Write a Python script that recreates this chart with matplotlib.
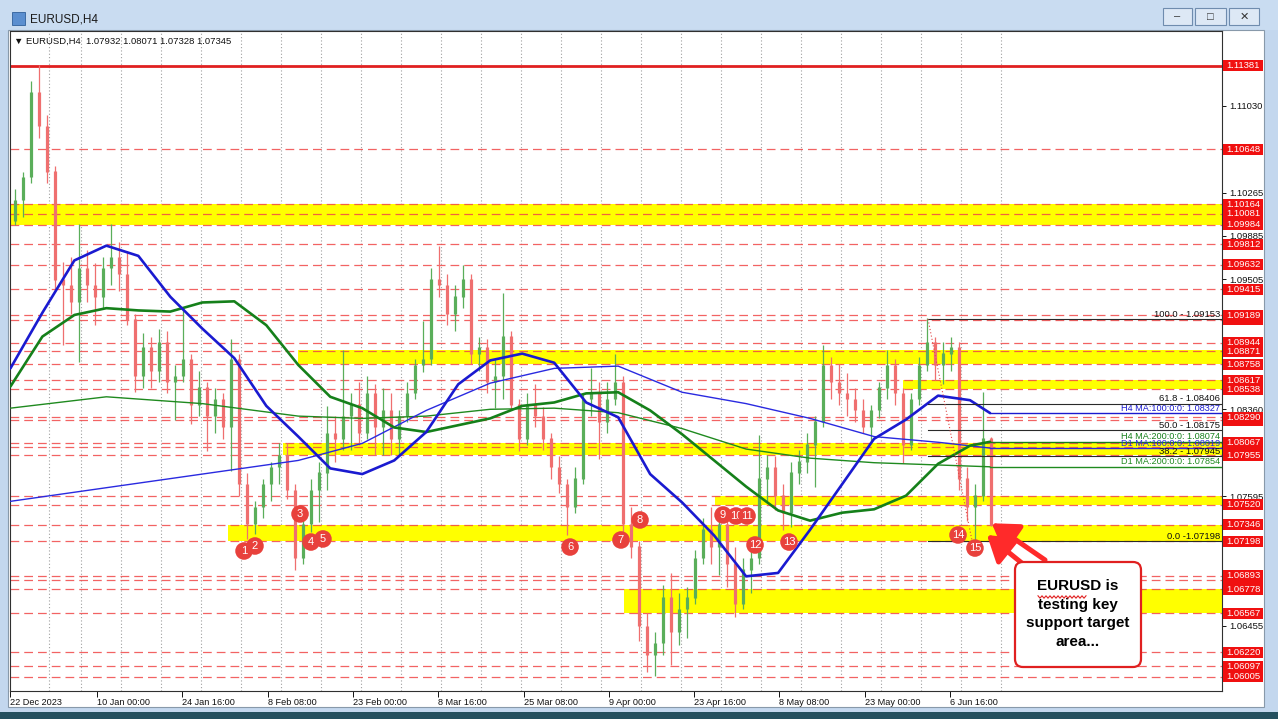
import numpy as np
import matplotlib.pyplot as plt
from matplotlib.patches import Rectangle, FancyBboxPatch
from matplotlib.lines import Line2D
import matplotlib.transforms as mtransforms

plt.rcParams['font.family'] = ['Liberation Sans', 'DejaVu Sans']

W, H = 1278, 719

# ---------------- data ----------------
# daily candles (one every 6 H4 bars)
closes = [1.1020, 1.1040, 1.1115, 1.1085, 1.1045, 1.0950, 1.0945, 1.0930, 1.0960, 1.0945,
          1.0935, 1.0960, 1.0970, 1.0955, 1.0915, 1.0865, 1.0890, 1.0870, 1.0895, 1.0860,
          1.0865, 1.0880, 1.0840, 1.0855, 1.0830, 1.0845, 1.0820, 1.0880, 1.0770, 1.0735,
          1.0750, 1.0770, 1.0785, 1.0795, 1.0765, 1.0705, 1.0735, 1.0765, 1.0780, 1.0815,
          1.0810, 1.0830, 1.0840, 1.0815, 1.0850, 1.0820, 1.0835, 1.0810, 1.0830, 1.0850,
          1.0875, 1.0880, 1.0950, 1.0945, 1.0920, 1.0935, 1.0950, 1.0885, 1.0890, 1.0860,
          1.0865, 1.0900, 1.0840, 1.0810, 1.0840, 1.0830, 1.0810, 1.0785, 1.0770, 1.0750,
          1.0775, 1.0845, 1.0850, 1.0825, 1.0845, 1.0860, 1.0735, 1.0715, 1.0645, 1.0620,
          1.0630, 1.0670, 1.0640, 1.0660, 1.0670, 1.0705, 1.0730, 1.0715, 1.0735, 1.0700,
          1.0665, 1.0695, 1.0705, 1.0775, 1.0785, 1.0760, 1.0745, 1.0780, 1.0790, 1.0805,
          1.0825, 1.0875, 1.0860, 1.0850, 1.0845, 1.0835, 1.0820, 1.0835, 1.0855, 1.0875,
          1.0850, 1.0805, 1.0845, 1.0875, 1.0895, 1.0875, 1.0885, 1.0890, 1.0775, 1.0750,
          1.0760, 1.0810, 1.07345]
highs = [1.1030, 1.1045, 1.1125, 1.1139, 1.1095, 1.1050, 1.0966, 1.0970, 1.0999, 1.0976,
         1.0965, 1.0970, 1.0999, 1.0983, 1.0975, 1.0920, 1.0903, 1.0900, 1.0907, 1.0905,
         1.0875, 1.0924, 1.0885, 1.0870, 1.0860, 1.0855, 1.0850, 1.0898, 1.0885, 1.0780,
         1.0755, 1.0775, 1.0790, 1.0806, 1.0806, 1.0770, 1.0740, 1.0775, 1.0790, 1.0839,
         1.0830, 1.0888, 1.0850, 1.0860, 1.0865, 1.0858, 1.0855, 1.0850, 1.0835, 1.0860,
         1.0880, 1.0914, 1.0960, 1.0980, 1.0955, 1.0945, 1.0963, 1.0955, 1.0900, 1.0898,
         1.0880, 1.0938, 1.0905, 1.0845, 1.0850, 1.0858, 1.0838, 1.0815, 1.0795, 1.0775,
         1.0785, 1.0850, 1.0872, 1.0860, 1.0860, 1.0885, 1.0865, 1.0750, 1.0720, 1.0657,
         1.0640, 1.0681, 1.0692, 1.0674, 1.0680, 1.0712, 1.0740, 1.0750, 1.0748, 1.0745,
         1.0715, 1.0705, 1.0712, 1.0813, 1.0796, 1.0795, 1.0770, 1.0790, 1.0800, 1.0815,
         1.0830, 1.0893, 1.0882, 1.0876, 1.0868, 1.0855, 1.0845, 1.0840, 1.0860, 1.0888,
         1.0880, 1.0855, 1.0850, 1.0882, 1.0916, 1.0900, 1.0895, 1.0900, 1.0895, 1.0785,
         1.0770, 1.0851, 1.0812]
lows = [1.0998, 1.1005, 1.1035, 1.1075, 1.1035, 1.0940, 1.0893, 1.0920, 1.0878, 1.0930,
        1.0910, 1.0925, 1.0945, 1.0940, 1.0910, 1.0851, 1.0855, 1.0855, 1.0860, 1.0850,
        1.0827, 1.0860, 1.0823, 1.0830, 1.0799, 1.0815, 1.0810, 1.0782, 1.0760, 1.0722,
        1.0726, 1.0740, 1.0755, 1.0770, 1.0757, 1.0695, 1.0700, 1.0728, 1.0737, 1.0765,
        1.0790, 1.0800, 1.0800, 1.0805, 1.0810, 1.0796, 1.0796, 1.0796, 1.0796, 1.0825,
        1.0845, 1.0869, 1.0875, 1.0935, 1.0910, 1.0905, 1.0925, 1.0876, 1.0870, 1.0850,
        1.0837, 1.0845, 1.0835, 1.0799, 1.0805, 1.0820, 1.0800, 1.0775, 1.0762, 1.0725,
        1.0745, 1.0770, 1.0830, 1.0792, 1.0815, 1.0840, 1.0718, 1.0705, 1.0632, 1.0605,
        1.0601, 1.0620, 1.0611, 1.0629, 1.0635, 1.0665, 1.0700, 1.0700, 1.0690, 1.0680,
        1.0653, 1.0660, 1.0674, 1.0700, 1.0755, 1.0747, 1.0730, 1.0732, 1.0770, 1.0780,
        1.0768, 1.0820, 1.0845, 1.0840, 1.0830, 1.0825, 1.0815, 1.0806, 1.0828, 1.0845,
        1.0840, 1.0789, 1.0800, 1.0840, 1.0870, 1.0862, 1.0858, 1.0870, 1.0765, 1.0738,
        1.0720, 1.0755, 1.0733]
first_open = 1.1002
opens = [first_open] + closes[:-1]

# moving averages (H4 bar index, price)
ma_bars = [0, 24, 48, 72, 96, 120, 144, 168, 192, 216, 240, 264, 288, 312, 336, 360,
           384, 408, 432, 456, 480, 504, 528, 552, 576, 600, 624, 648, 672, 696, 720, 735]
h4_ma100 = [1.0872, 1.0921, 1.0967, 1.0980, 1.0971, 1.0935, 1.0907, 1.0881, 1.0839, 1.0812,
            1.0784, 1.0779, 1.0791, 1.0816, 1.0858, 1.0879, 1.0885, 1.0877, 1.0842, 1.0829,
            1.0779, 1.0754, 1.0725, 1.0689, 1.0692, 1.0730, 1.0770, 1.0810, 1.0827, 1.0848,
            1.0844, 1.08327]
h4_ma200 = [1.0856, 1.0900, 1.0919, 1.0925, 1.0923, 1.0922, 1.0930, 1.0931, 1.0910, 1.0875,
            1.0847, 1.0837, 1.0820, 1.0816, 1.0822, 1.0828, 1.0839, 1.0842, 1.0850, 1.0851,
            1.0835, 1.0814, 1.0791, 1.0768, 1.0747, 1.0738, 1.0745, 1.0748, 1.0760, 1.0788,
            1.0804, 1.08074]
d1_bars = [0, 72, 144, 216, 264, 312, 360, 408, 456, 504, 552, 600, 648, 696, 735]
d1_ma100 = [1.0755, 1.0767, 1.0779, 1.0791, 1.0806, 1.0835, 1.0859, 1.0872, 1.0874, 1.0851,
            1.0841, 1.0828, 1.0812, 1.0807, 1.08019]
d1_ma200 = [1.0837, 1.0847, 1.0841, 1.0830, 1.0828, 1.0830, 1.0836, 1.0837, 1.0833, 1.0819,
            1.0801, 1.0793, 1.0789, 1.0787, 1.07854]

resistance = 1.11381
levels = [1.10648, 1.10164, 1.10081, 1.09984, 1.09812, 1.09632, 1.09415, 1.09189, 1.09149,
          1.08944, 1.08871, 1.08758, 1.08617, 1.08538, 1.08290, 1.08262, 1.08067, 1.08030,
          1.07955, 1.07595, 1.07520, 1.07346, 1.07198, 1.06893, 1.06862, 1.06778, 1.06567,
          1.06220, 1.06097, 1.06005]
# red price boxes on the axis; a few sit under their neighbours and show no text
box_levels = [1.06005, 1.06097, 1.06220, 1.06567, 1.06778, 1.06862, 1.06893, 1.07198,
              1.07346, 1.07520, 1.07955, 1.08030, 1.08067, 1.08262, 1.08290, 1.08538,
              1.08617, 1.08758, 1.08871, 1.08944, 1.09149, 1.09189, 1.09415, 1.09632,
              1.09812, 1.09984, 1.10081, 1.10164, 1.10648, 1.11381]
hidden_boxes = [1.06862, 1.08030, 1.08262, 1.09149]
band_tops = [1.10164, 1.08885, 1.08617, 1.08067, 1.07595, 1.07346, 1.06778]
band_bottoms = [1.09984, 1.08758, 1.08538, 1.07955, 1.07520, 1.07198, 1.06567]
band_starts = [-0.3, 215.8, 669.7, 204.5, 528.7, 163.3, 460.4]

fib_names = ['100.0 - 1.09153', '61.8 - 1.08406', '50.0 - 1.08175', '38.2 - 1.07945', '0.0 -1.07198']
fib_prices = [1.09153, 1.08406, 1.08175, 1.07945, 1.07198]
fib_start = 688.5
fib_low_bar = 721.6

# price-scale labels that are not hidden behind the red boxes
grid_ticks = [1.11410, 1.11030, 1.10265, 1.09885, 1.09505, 1.08360, 1.07595, 1.06455]

date_bars = [0, 65, 129, 193, 257, 321, 385, 449, 513, 577, 641, 705]
date_labels = ['22 Dec 2023', '10 Jan 00:00', '24 Jan 16:00', '8 Feb 08:00', '23 Feb 00:00',
               '8 Mar 16:00', '25 Mar 08:00', '9 Apr 00:00', '23 Apr 16:00', '8 May 08:00',
               '23 May 00:00', '6 Jun 16:00']

marker_bars = [175.3, 183.5, 217.3, 225.5, 234.5, 419.9, 458.1, 472.4, 534.7, 544.4,
               552.7, 558.7, 584.2, 711.0, 723.7]
marker_prices = [1.07113, 1.07157, 1.07439, 1.07192, 1.07219, 1.07148, 1.07210, 1.07386,
                 1.07430, 1.07421, 1.07421, 1.07166, 1.07192, 1.07254, 1.07139]

# ---------------- figure / window chrome ----------------
fig = plt.figure(figsize=(W / 100, H / 100), dpi=100)
fig.patch.set_facecolor('#c3d7ee')


def px_rect(x0, y0, x1, y1, zorder=-5, **kw):
    r = Rectangle((x0 / W, 1 - y1 / H), (x1 - x0) / W, (y1 - y0) / H,
                  transform=fig.transFigure, zorder=zorder, **kw)
    fig.patches.append(r)
    return r


px_rect(0, 0, W, 30, facecolor='#c9dcf1', edgecolor='none')
px_rect(0, 712, W, H, facecolor='#24505f', edgecolor='none')
px_rect(8, 30, 1264, 707, facecolor='white', edgecolor='#8899aa', lw=0.8)
px_rect(12, 12, 25, 25, facecolor='#5b8fd0', edgecolor='#2f5f9a', lw=0.6)
fig.text(30 / W, 1 - 19 / H, 'EURUSD,H4', fontsize=8.5, color='#1a1a1a', va='center')
for (bx0, bx1, sym) in [(1163, 1192, '\u2013'), (1195, 1226, '\u25a1'), (1229, 1259, '\u2715')]:
    px_rect(bx0, 8, bx1, 25, facecolor='#dde8f5', edgecolor='#6f8cae', lw=0.8)
    fig.text((bx0 + bx1) / 2 / W, 1 - 16.5 / H, sym, fontsize=8, ha='center', va='center',
             color='#333333')

# ---------------- main chart ----------------
x_left, x_right = (10 - 10.4) / 1.3328, (1222 - 10.4) / 1.3328
ax = fig.add_axes([10 / W, 1 - 691 / H, 1212 / W, 660 / H])
ax.set_facecolor('white')
ax.set_xlim(x_left, x_right)
ax.set_ylim(1.05881, 1.11689)

# vertical dotted grid
for gb in [29] + list(range(53, 750, 30)):
    ax.axvline(gb, color='#a0a0a0', lw=0.8, ls=(0, (1, 2)), zorder=0.5)

# yellow support/resistance boxes
for top, bot, start in zip(band_tops, band_bottoms, band_starts):
    ax.add_patch(Rectangle((start, bot), x_right - start, top - bot,
                           facecolor='#ffff00', edgecolor='none', zorder=1))

# dashed level lines
for lv in levels:
    ax.axhline(lv, color='#f04848', lw=0.9, dashes=(7, 4), alpha=0.85, zorder=2)
ax.axhline(resistance, color='#e02020', lw=2.0, zorder=2)

# candles
o = np.array(opens)
c = np.array(closes)
cx = np.arange(len(closes)) * 6 + 3.5
cols = np.where(c >= o, '#5aae5a', '#ef6f6f')
ax.vlines(cx, lows, highs, colors=cols, lw=0.9, zorder=3)
ax.vlines(cx, np.minimum(o, c), np.maximum(o, c) + 0.00004, colors=cols, lw=2.3, zorder=3)

# moving averages and their right-hand labels
ma_specs = [(d1_bars, d1_ma200, '#1f8a1f', 1.0, 'D1 MA:200:0:0: '),
            (d1_bars, d1_ma100, '#2a2ae0', 1.0, 'D1 MA:100:0:0: '),
            (ma_bars, h4_ma200, '#15801a', 1.9, 'H4 MA:200:0:0: '),
            (ma_bars, h4_ma100, '#1a1ad0', 1.9, 'H4 MA:100:0:0: ')]
for xs, ys, col, lw, name in ma_specs:
    ax.plot(xs, ys, color=col, lw=lw, zorder=4, solid_capstyle='round')
    ax.plot([xs[-1], x_right], [ys[-1], ys[-1]], color=col, lw=1.0, zorder=4)
    ax.text(0.9983, ys[-1] + 0.00004, f'{name}{ys[-1]:.5f}', transform=ax.get_yaxis_transform(),
            ha='right', va='bottom', fontsize=6.6, color=col, zorder=6)

# fibonacci retracement
for name, fp in zip(fib_names, fib_prices):
    ax.plot([fib_start, x_right], [fp, fp], color='#2a2a2a', lw=0.8, zorder=4)
    ax.text(0.9983, fp + 0.00005, name, transform=ax.get_yaxis_transform(),
            ha='right', va='bottom', fontsize=6.8, color='#111111', zorder=6)
ax.plot([fib_start, fib_low_bar], [fib_prices[0], fib_prices[-1]], color='#e04848',
        lw=0.8, ls=(0, (1, 2)), zorder=4)

# numbered touches of the support area
for i, (mb, mp) in enumerate(zip(marker_bars, marker_prices)):
    ax.scatter([mb], [mp], s=160, color='#e8413c', edgecolors='none', zorder=10 + 2 * i,
               clip_on=False)
    ax.text(mb, mp, str(i + 1), ha='center', va='center', fontsize=8, color='white',
            zorder=11 + 2 * i)

# arrows to the current price
for (tb, tp), (hb, hp) in [((776.3, 1.07034), (736.3, 1.07357)),
                           ((767.3, 1.06928), (732.7, 1.07254))]:
    ax.annotate('', xy=(hb, hp), xytext=(tb, tp), annotation_clip=False, zorder=50,
                arrowprops=dict(arrowstyle='-|>,head_length=0.7,head_width=0.45',
                                color='#ff2a2a', lw=3.6, mutation_scale=22,
                                shrinkA=0, shrinkB=0))

# axes styling
for sp in ax.spines.values():
    sp.set_color('#303030')
    sp.set_linewidth(0.8)
ax.yaxis.tick_right()
ax.set_yticks(grid_ticks)
ax.set_yticklabels([f'{t:.5f}' for t in grid_ticks])
ax.tick_params(axis='y', right=True, left=False, length=3, width=0.7, pad=2,
               labelsize=6.8, colors='#111111')
ax.set_xticks(date_bars)
ax.set_xticklabels(date_labels)
ax.tick_params(axis='x', bottom=True, length=4, width=0.7, pad=1, labelsize=6.6,
               colors='#111111')
for lbl in ax.get_xticklabels():
    lbl.set_ha('left')

# red price boxes on the right axis, texts drawn above all boxes
ytr = ax.get_yaxis_transform()
box_h = 11 * (1.11689 - 1.05881) / 660
for lv in box_levels:
    ax.add_patch(Rectangle((1.0008, lv - box_h / 2), 40 / 1212, box_h, transform=ytr,
                           facecolor='#f01010', edgecolor='none', clip_on=False, zorder=20))
    if lv not in hidden_boxes:
        ax.text(1.0035, lv, f'{lv:.5f}', transform=ytr, ha='left', va='center',
                fontsize=6.8, color='white', clip_on=False, zorder=21)

# header line inside the chart
fig.text(14 / W, 1 - 41 / H, '\u25bc EURUSD,H4  1.07932 1.08071 1.07328 1.07345',
         fontsize=6.8, color='#111111', va='center')

# callout box
ident = mtransforms.IdentityTransform()
box = FancyBboxPatch((1015, H - 667), 126, 105, boxstyle='round,pad=0,rounding_size=8',
                     facecolor='white', edgecolor='#e02020', lw=1.6, transform=ident,
                     zorder=30)
fig.patches.append(box)
fig.text(1078 / W, 1 - 614 / H, 'EURUSD is\ntesting key\nsupport target\narea...',
         ha='center', va='center', fontsize=11, fontweight='bold', color='black',
         linespacing=1.4, zorder=31)
sx = np.arange(1038, 1088, 2)
sy = H - 597 + np.tile([1.2, -1.2], len(sx))[:len(sx)]
fig.lines.append(Line2D(sx, sy, color='#e02020', lw=0.8, transform=ident, zorder=32))

fig.savefig('out.png', dpi=100)
